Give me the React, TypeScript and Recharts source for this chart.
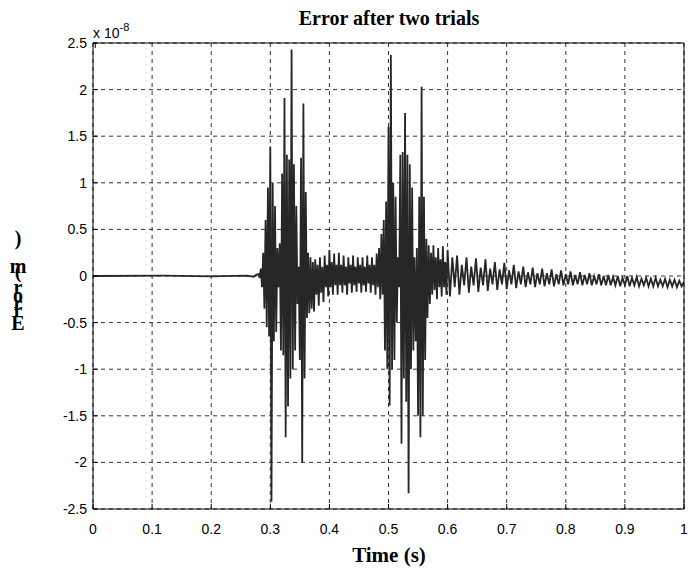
import React from "react";
import { LineChart, Line, XAxis, YAxis, CartesianGrid } from "recharts";

const xTicks = [0, 0.1, 0.2, 0.3, 0.4, 0.5, 0.6, 0.7, 0.8, 0.9, 1];
const yTicks = [-2.5, -2, -1.5, -1, -0.5, 0, 0.5, 1, 1.5, 2, 2.5];

// quiet part before the first burst (time, error x 1e-8)
const flatTimes = [0, 0.12, 0.2, 0.26, 0.272, 0.276];
const flatValues = [0, 0.003, -0.003, 0.004, -0.008, 0.012];

// first burst, sampled every 0.002 s from 0.280 s
const burst1Start = 0.28;
const burst1Step = 0.002;
const burst1Values = [
  0.02, -0.02, 0.08, -0.12, 0.25, -0.35, 0.6, -0.55, 0.95, -0.65,
  1.39, -2.42, 1.0, -0.7, 0.75, -0.6, 0.3, -0.12, 0.35, -0.8,
  1.1, -0.85, 1.91, -1.73, 1.3, -1.4, 1.25, -1.1, 2.43, -1.0,
  1.2, -0.8, 0.75, -0.3, 0.1, -0.9, 1.27, -2.0, 1.85, -1.1,
  0.9, -0.45, 0.25, -0.4, 0.2, -0.35,
];

// ringing between the bursts, every 0.002 s from 0.372 s
const midStart = 0.372;
const midStep = 0.002;
const midValues = [
  0.15, -0.38, 0.18, -0.2, 0.12, -0.32, 0.2, -0.18, 0.1, -0.28,
  0.22, -0.12, 0.12, -0.22, 0.28, -0.12, 0.15, -0.2, 0.24, -0.1,
  0.12, -0.2, 0.25, -0.1, 0.12, -0.18, 0.22, -0.1, 0.1, -0.2,
  0.2, -0.08, 0.12, -0.18, 0.22, -0.1, 0.1, -0.17, 0.2, -0.08,
  0.12, -0.18, 0.2, -0.1, 0.1, -0.17, 0.22, -0.08, 0.12, -0.18,
  0.2, -0.1, 0.12, -0.2, 0.24, -0.12, 0.3, -0.25, 0.45,
];

// second burst, every 0.002 s from 0.490 s
const burst2Start = 0.49;
const burst2Step = 0.002;
const burst2Values = [
  -0.2, 0.6, -0.8, 0.8, -1.0, 1.6, -1.39, 2.37, -1.0, 1.0,
  -0.9, 0.85, -0.5, 0.2, -0.12, 1.3, -1.8, 1.33, -1.1, 1.75,
  -1.35, 1.3, -2.33, 1.2, -1.0, 0.95, -0.8, 0.2, -0.7, 0.3,
  -1.5, 0.85, -1.73, 2.03, -1.5, 0.85, -0.9, 0.4, -0.45, 0.33,
  -0.3, 0.25, -0.2, 0.33, -0.15, 0.2, -0.25, 0.3, -0.12, 0.18,
  -0.22, 0.32, -0.12, 0.15, -0.2, 0.28,
];

// decaying tail, every 0.004 s from 0.604 s
const tailStart = 0.604;
const tailStep = 0.004;
const tailValues = [
  -0.22, 0.2, -0.12, 0.22, -0.2, 0.12, -0.1, 0.2, -0.18, 0.1,
  -0.1, 0.19, -0.17, 0.09, -0.1, 0.18, -0.16, 0.08, -0.09, 0.15,
  -0.15, 0.07, -0.09, 0.14, -0.14, 0.06, -0.09, 0.12, -0.13, 0.05,
  -0.09, 0.1, -0.12, 0.04, -0.09, 0.09, -0.12, 0.03, -0.09, 0.08,
  -0.11, 0.03, -0.09, 0.07, -0.11, 0.02, -0.09, 0.06, -0.1, 0.02,
  -0.09, 0.05, -0.1, 0.01, -0.09, 0.04, -0.1, 0.01, -0.09, 0.03,
  -0.1, 0.0, -0.09, 0.02, -0.1, 0.0, -0.1, 0.01, -0.1, -0.01,
  -0.1, 0.0, -0.11, -0.02, -0.1, 0.0, -0.11, -0.02, -0.1, -0.01,
  -0.11, -0.03, -0.1, -0.02, -0.11, -0.03, -0.11, -0.02, -0.11, -0.04,
  -0.11, -0.03, -0.12, -0.04, -0.11, -0.04, -0.12, -0.05, -0.11, -0.06,
];

function sampled(start: number, step: number, values: number[]) {
  return values.map((v, i) => ({ t: start + i * step, v }));
}

const data = [
  ...flatTimes.map((t, i) => ({ t, v: flatValues[i] })),
  ...sampled(burst1Start, burst1Step, burst1Values),
  ...sampled(midStart, midStep, midValues),
  ...sampled(burst2Start, burst2Step, burst2Values),
  ...sampled(tailStart, tailStep, tailValues),
];

const tickFont = "'Liberation Sans', Arial, Helvetica, sans-serif";
const labelFont = "'Liberation Serif', 'Times New Roman', serif";

function LeftTick(props: any) {
  const { x, y, payload } = props;
  return (
    <g>
      <text x={x} y={y} dy="0.35em" textAnchor="end" fontSize={14} fontFamily={tickFont} fill="#000">
        {String(payload.value)}
      </text>
      <line x1={x + 6} x2={x + 11} y1={y} y2={y} stroke="#000" />
    </g>
  );
}

function BottomTick(props: any) {
  const { x, y, payload } = props;
  return (
    <g>
      <text x={x} y={y} dy="0.71em" textAnchor="middle" fontSize={14} fontFamily={tickFont} fill="#000">
        {String(payload.value)}
      </text>
      <line x1={x} x2={x} y1={y - 15} y2={y - 20} stroke="#000" />
    </g>
  );
}

function TopTick(props: any) {
  const { x, y } = props;
  return <line x1={x} x2={x} y1={y} y2={y + 5} stroke="#000" />;
}

function RightTick(props: any) {
  const { x, y } = props;
  return <line x1={x} x2={x - 5} y1={y} y2={y} stroke="#000" />;
}

const yLabelChars = [
  { ch: ")", top: 228 },
  { ch: "m", top: 256 },
  { ch: "(", top: 261 },
  { ch: "r", top: 277 },
  { ch: "o", top: 285 },
  { ch: "r", top: 293 },
  { ch: "r", top: 300 },
  { ch: "E", top: 313 },
];

export default function App() {
  return (
    <div style={{ position: "absolute", left: 0, top: 0, width: 688, height: 573, background: "#fff" }}>
      <LineChart width={688} height={573} data={data} margin={{ top: 42, right: 3, left: 0, bottom: 0 }}>
        <CartesianGrid stroke="#333" strokeDasharray="4 4" />
        <XAxis
          dataKey="t"
          type="number"
          domain={[0, 1]}
          ticks={xTicks}
          allowDataOverflow
          height={64}
          tickSize={0}
          tickMargin={15}
          tickLine={false}
          axisLine={{ stroke: "#000" }}
          tick={<BottomTick />}
        />
        <XAxis
          xAxisId="top"
          orientation="top"
          type="number"
          domain={[0, 1]}
          ticks={xTicks}
          height={1}
          tickSize={0}
          tickMargin={0}
          tickLine={false}
          axisLine={{ stroke: "#000" }}
          tick={<TopTick />}
        />
        <YAxis
          type="number"
          domain={[-2.5, 2.5]}
          ticks={yTicks}
          allowDataOverflow
          width={93}
          tickSize={0}
          tickMargin={6}
          tickLine={false}
          axisLine={{ stroke: "#000" }}
          tick={<LeftTick />}
        />
        <YAxis
          yAxisId="right"
          orientation="right"
          type="number"
          domain={[-2.5, 2.5]}
          ticks={yTicks}
          width={1}
          tickSize={0}
          tickMargin={0}
          tickLine={false}
          axisLine={{ stroke: "#000" }}
          tick={<RightTick />}
        />
        <Line
          dataKey="v"
          type="linear"
          stroke="#262626"
          strokeWidth={1.8}
          strokeLinejoin="miter"
          dot={false}
          isAnimationActive={false}
        />
      </LineChart>

      <div
        style={{
          position: "absolute", left: 189, top: 8, width: 400, textAlign: "center",
          fontFamily: labelFont, fontWeight: "bold", fontSize: 20, lineHeight: "20px",
        }}
      >
        Error after two trials
      </div>
      <div
        style={{
          position: "absolute", left: 93, top: 22, fontFamily: tickFont, fontSize: 14,
          lineHeight: "14px", whiteSpace: "nowrap",
        }}
      >
        x 10<sup style={{ fontSize: 11, verticalAlign: "7px", lineHeight: "10px" }}>-8</sup>
      </div>
      <div
        style={{
          position: "absolute", left: 189, top: 545, width: 400, textAlign: "center",
          fontFamily: labelFont, fontWeight: "bold", fontSize: 21, lineHeight: "20px",
        }}
      >
        Time (s)
      </div>
      {yLabelChars.map((c, i) => (
        <span
          key={i}
          style={{
            position: "absolute", left: 8, top: c.top, width: 20, textAlign: "center",
            fontFamily: labelFont, fontWeight: "bold", fontSize: 20, lineHeight: "20px",
          }}
        >
          {c.ch}
        </span>
      ))}
    </div>
  );
}
